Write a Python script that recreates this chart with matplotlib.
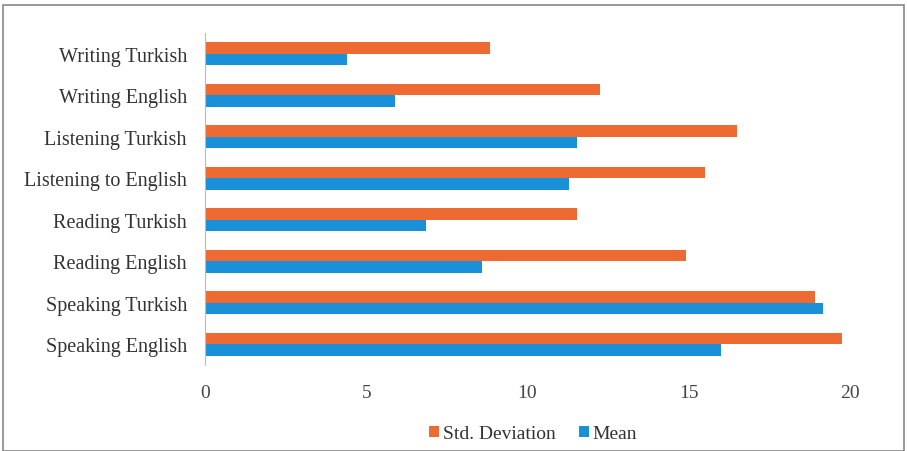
import numpy as np
import matplotlib.pyplot as plt
from matplotlib.patches import Rectangle

categories = ['Speaking English', 'Speaking Turkish', 'Reading English', 'Reading Turkish',
              'Listening to English', 'Listening Turkish', 'Writing English', 'Writing Turkish']
std_dev = [19.75, 18.9, 14.9, 11.55, 15.5, 16.5, 12.25, 8.85]
mean = [16.0, 19.15, 8.6, 6.85, 11.3, 11.55, 5.9, 4.4]

plt.rcParams['font.family'] = ['Liberation Serif', 'DejaVu Serif']

fig = plt.figure(figsize=(9.07, 4.52), dpi=100)
W, H = 907, 452
ax = fig.add_axes([205 / W, 1 - 366 / H, (850 - 205) / W, (366 - 34) / H])

y = np.arange(len(categories))
h = 0.28
ax.barh(y + h / 2, std_dev, height=h, color='#EE6A33', label='Std. Deviation')
ax.barh(y - h / 2, mean, height=h, color='#1A90D8', label='Mean')

ax.set_xlim(0, 20)
ax.set_ylim(-0.5, len(categories) - 0.5)
ax.set_yticks(y)
ax.set_yticklabels(categories, fontsize=14.5, color='#333333')
ax.set_xticks([0, 5, 10, 15, 20])
ax.tick_params(axis='x', labelsize=14, colors='#444444', length=0, pad=14)
ax.tick_params(axis='y', length=0, pad=13)
for s in ['top', 'right', 'bottom']:
    ax.spines[s].set_visible(False)
ax.spines['left'].set_color('#BBBBBB')

fig.legend(loc='center', bbox_to_anchor=(533 / W, 1 - 435 / H), ncol=2, frameon=False,
           fontsize=14, handlelength=0.5, handleheight=0.5, handletextpad=0.2,
           columnspacing=1.2, labelcolor='#333333')

# outer frame
fig.patches.append(Rectangle((3 / W, 0.0), (W - 6) / W, 1 - 6 / H, transform=fig.transFigure,
                             fill=False, edgecolor='#888888', linewidth=1.2))

fig.savefig('out.png', dpi=100)
